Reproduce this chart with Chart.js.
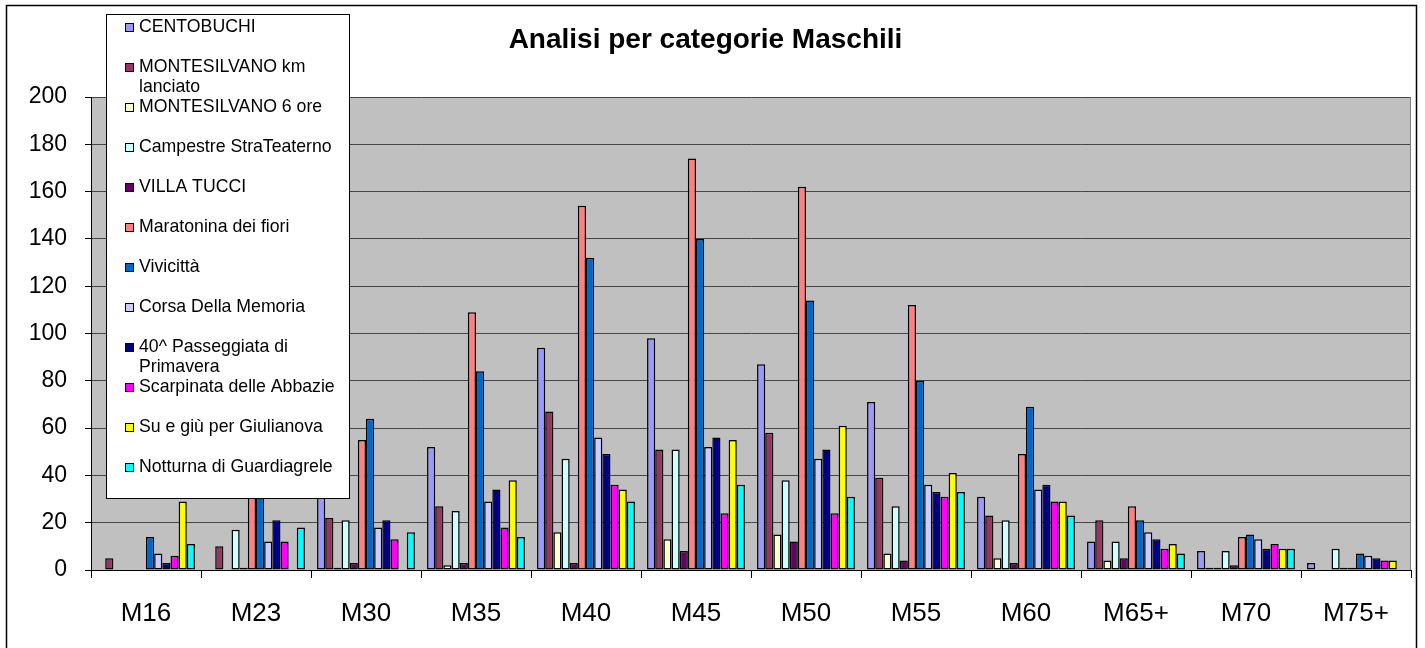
<!DOCTYPE html>
<html>
<head>
<meta charset="utf-8">
<title>Analisi per categorie Maschili</title>
<script src="https://cdn.jsdelivr.net/npm/chart.js@4.4.1/dist/chart.umd.min.js"></script>
<style>
    html, body { margin: 0; padding: 0; background: #fff; }
    #wrap { width: 1425px; height: 648px; }
</style>
</head>
<body>
<div id="wrap"><canvas id="chart" width="1425" height="648"></canvas></div>
<script>
// ==============================
// DATA
// ==============================
const categories = ["M16", "M23", "M30", "M35", "M40", "M45", "M50", "M55", "M60", "M65+", "M70", "M75+"];
const yTickValues = [0, 20, 40, 60, 80, 100, 120, 140, 160, 180, 200];

const seriesNames = [
    "CENTOBUCHI",
    "MONTESILVANO km lanciato",
    "MONTESILVANO 6 ore",
    "Campestre StraTeaterno",
    "VILLA TUCCI",
    "Maratonina dei fiori",
    "Vivicittà",
    "Corsa Della Memoria",
    "40^ Passeggiata di Primavera",
    "Scarpinata delle Abbazie",
    "Su e giù per Giulianova",
    "Notturna di Guardiagrele"
];

const centobuchi   = [0, 0, 38, 52, 94, 98, 87, 71, 31, 12, 8, 3];
const montKm       = [5, 10, 22, 27, 67, 51, 58, 39, 23, 21, 1, 0];
const mont6ore     = [0, 0, 1, 2, 16, 13, 15, 7, 5, 4, 1, 0];
const campestre    = [0, 17, 21, 25, 47, 51, 38, 27, 21, 12, 8, 9];
const villaTucci   = [0, 1, 3, 3, 3, 8, 12, 4, 3, 5, 2, 1];
const maratonina   = [0, 38, 55, 109, 154, 174, 162, 112, 49, 27, 14, 1];
const vivicitta    = [14, 32, 64, 84, 132, 140, 114, 80, 69, 21, 15, 7];
const corsaMemoria = [7, 12, 18, 29, 56, 52, 47, 36, 34, 16, 13, 6];
const passeggiata  = [3, 21, 21, 34, 49, 56, 51, 33, 36, 13, 9, 5];
const scarpinata   = [6, 12, 13, 18, 36, 24, 24, 31, 29, 9, 11, 4];
const suEGiu       = [29, 0, 0, 38, 34, 55, 61, 41, 29, 11, 9, 4];
const notturna     = [11, 18, 16, 14, 29, 36, 31, 33, 23, 7, 9, 0];

const seriesValues = [
    centobuchi, montKm, mont6ore, campestre, villaTucci, maratonina,
    vivicitta, corsaMemoria, passeggiata, scarpinata, suEGiu, notturna
];

// ==============================
// STYLE
// ==============================
const seriesColors = [
    "#9999FF", "#993366", "#FFFFCC", "#CCFFFF", "#660066", "#FF8080",
    "#0066CC", "#CCCCFF", "#000080", "#FF00FF", "#FFFF00", "#00FFFF"
];
const FONT = "'Liberation Sans', Arial, sans-serif";

// gray plot area + outer frame
const plotBackground = {
    id: "plotBackground",
    beforeDraw(chart) {
        const { ctx, chartArea: a } = chart;
        ctx.save();
        ctx.fillStyle = "#fff";
        ctx.fillRect(0, 0, chart.width, chart.height);
        ctx.fillStyle = "#c0c0c0";
        ctx.fillRect(a.left, a.top, a.right - a.left, a.bottom - a.top);
        ctx.strokeStyle = "#000";
        ctx.lineWidth = 1.5;
        ctx.strokeRect(6.5, 5.5, 1410, 700);
        ctx.restore();
    },
    afterDatasetsDraw(chart) {
        const { ctx, chartArea: a } = chart;
        ctx.save();
        ctx.strokeStyle = "#808080";
        ctx.lineWidth = 1;
        ctx.beginPath();
        ctx.moveTo(a.right - 0.5, a.top);
        ctx.lineTo(a.right - 0.5, a.bottom);
        ctx.stroke();
        ctx.restore();
    }
};

function wrapLabel(ctx, text, maxW) {
    const words = text.split(" ");
    const lines = [];
    let line = "";
    words.forEach(w => {
        const test = line ? line + " " + w : w;
        if (line && ctx.measureText(test).width > maxW) {
            lines.push(line);
            line = w;
        } else {
            line = test;
        }
    });
    if (line) lines.push(line);
    return lines;
}

// floating legend box, like the Excel one
const floatingLegend = {
    id: "floatingLegend",
    afterDraw(chart) {
        const { ctx } = chart;
        ctx.save();
        ctx.fillStyle = "#fff";
        ctx.fillRect(106.5, 14.5, 243, 484);
        ctx.strokeStyle = "#000";
        ctx.lineWidth = 1;
        ctx.strokeRect(106.5, 14.5, 243, 484);

        ctx.font = "17.7px " + FONT;
        ctx.textBaseline = "middle";
        ctx.textAlign = "left";

        let y = 27.5;
        chart.data.datasets.forEach(ds => {
            ctx.fillStyle = ds.backgroundColor;
            ctx.fillRect(125.5, y - 4, 8, 8);
            ctx.strokeStyle = "#000";
            ctx.strokeRect(125.5, y - 4, 8, 8);

            ctx.fillStyle = "#000";
            wrapLabel(ctx, ds.label, 206).forEach((ln, i) => {
                ctx.fillText(ln, 139, y + i * 20);
            });
            y += 40;
        });
        ctx.restore();
    }
};

// ==============================
// CHART
// ==============================
const datasets = seriesNames.map((name, i) => ({
    label: name,
    data: seriesValues[i],
    backgroundColor: seriesColors[i],
    borderColor: "#000",
    borderWidth: 1.5,
    borderSkipped: false,
    categoryPercentage: 0.89,
    barPercentage: 1.0
}));

new Chart(document.getElementById("chart"), {
    type: "bar",
    data: { labels: categories, datasets },
    options: {
        responsive: false,
        animation: false,
        devicePixelRatio: 1,
        layout: { padding: { top: 0, right: 14, bottom: 0, left: 0 } },
        plugins: {
            legend: { display: false },
            tooltip: { enabled: false },
            title: {
                display: true,
                text: "Analisi per categorie Maschili",
                color: "#000",
                font: { family: FONT, size: 28, weight: "bold", lineHeight: 1.2 },
                padding: { top: 23, bottom: 40.4 }
            }
        },
        scales: {
            x: {
                offset: true,
                grid: {
                    offset: true,
                    drawOnChartArea: false,
                    drawTicks: true,
                    tickLength: 8,
                    tickColor: "#000"
                },
                border: { color: "#000", width: 1 },
                ticks: {
                    color: "#000",
                    font: { family: FONT, size: 26 },
                    padding: 20,
                    maxRotation: 0,
                    autoSkip: false
                },
                afterFit(scale) { scale.height = 78; }
            },
            y: {
                min: 0,
                max: 200,
                grid: {
                    color: "#454545",
                    lineWidth: 1,
                    tickLength: 6,
                    tickColor: "#000"
                },
                border: { color: "#000", width: 1 },
                ticks: {
                    color: "#000",
                    font: { family: FONT, size: 23 },
                    padding: 18
                },
                afterBuildTicks(scale) {
                    scale.ticks = yTickValues.map(v => ({ value: v }));
                },
                afterFit(scale) { scale.width = 91; }
            }
        }
    },
    plugins: [plotBackground, floatingLegend]
});
</script>
</body>
</html>
